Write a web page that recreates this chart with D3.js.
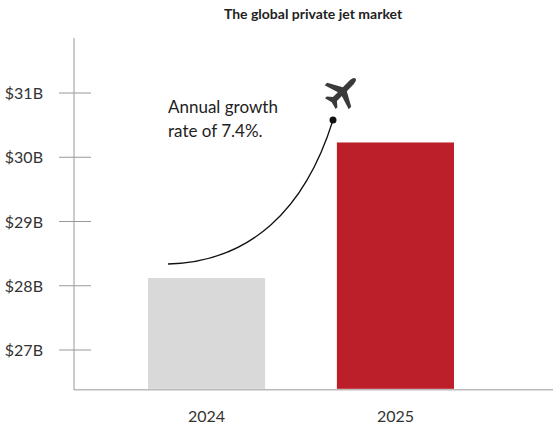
<!DOCTYPE html>
<html>
<head>
<meta charset="utf-8">
<script src="https://cdn.jsdelivr.net/npm/d3@7"></script>
<style>
  body { margin: 0; background: #fff; }
  text { font-family: Lato, "Open Sans", sans-serif; }
</style>
</head>
<body>
<svg id="chart" width="554" height="430"></svg>
<script>
var years = ["2024", "2025"];
var marketValues = [28.12, 30.23];
var tickValues = [27, 28, 29, 30, 31];
var barColors = ["#d9d9d9", "#bc1f29"];
var noteLines = ["Annual growth", "rate of 7.4%."];

var svg = d3.select("#chart");

var x = d3.scaleBand().domain(years).range([148, 454]).paddingInner(0.38);
var y = d3.scaleLinear().domain([27, 31]).range([350, 93]);
var base = 26.38;

// title
svg.append("text")
   .attr("x", 313).attr("y", 19)
   .attr("text-anchor", "middle")
   .attr("font-size", 14).attr("font-weight", "bold").attr("fill", "#222")
   .text("The global private jet market");

// axes lines
svg.append("line").attrs = null;
svg.append("line")
   .attr("x1", 74).attr("x2", 74).attr("y1", 38).attr("y2", y(base))
   .attr("stroke", "#999");
svg.append("line")
   .attr("x1", 74).attr("x2", 553).attr("y1", y(base)).attr("y2", y(base))
   .attr("stroke", "#999");

// y ticks
var yt = svg.append("g").selectAll("g").data(tickValues).enter().append("g");
yt.append("line")
  .attr("x1", 59).attr("x2", 91)
  .attr("y1", d => y(d)).attr("y2", d => y(d))
  .attr("stroke", "#999");
yt.append("text")
  .attr("x", 43).attr("y", d => y(d) + 6)
  .attr("text-anchor", "end").attr("font-size", 16).attr("fill", "#333")
  .text(d => "$" + d + "B");

// bars
svg.append("g").selectAll("rect").data(marketValues).enter().append("rect")
   .attr("x", (d, i) => x(years[i]))
   .attr("width", x.bandwidth())
   .attr("y", d => y(d))
   .attr("height", d => y(base) - 1 - y(d))
   .attr("fill", (d, i) => barColors[i]);

// x labels
svg.append("g").selectAll("text").data(years).enter().append("text")
   .attr("x", d => x(d) + x.bandwidth() / 2).attr("y", 422)
   .attr("text-anchor", "middle").attr("font-size", 16).attr("fill", "#333")
   .text(d => d);

// growth curve
svg.append("path")
   .attr("d", "M168,264 C250,262 305,210 333,120")
   .attr("fill", "none").attr("stroke", "#111").attr("stroke-width", 1.3);
svg.append("circle").attr("cx", 333).attr("cy", 120).attr("r", 3.5).attr("fill", "#111");

// note
svg.append("g").selectAll("text").data(noteLines).enter().append("text")
   .attr("x", 168).attr("y", (d, i) => 113 + i * 24)
   .attr("font-size", 17).attr("fill", "#222")
   .text(d => d);

// plane
svg.append("path")
   .attr("transform", "translate(342,92) rotate(45)")
   .attr("d", "M0,-19 C2,-19 2.8,-16 2.8,-12 L2.8,-4 L17,4 L17,7.5 L2.8,3 L2.8,10 L7.5,14 L7.5,16.5 L0,14.5 L-7.5,16.5 L-7.5,14 L-2.8,10 L-2.8,3 L-17,7.5 L-17,4 L-2.8,-4 L-2.8,-12 C-2.8,-16 -2,-19 0,-19Z")
   .attr("fill", "#3a3a3a");
</script>
</body>
</html>
